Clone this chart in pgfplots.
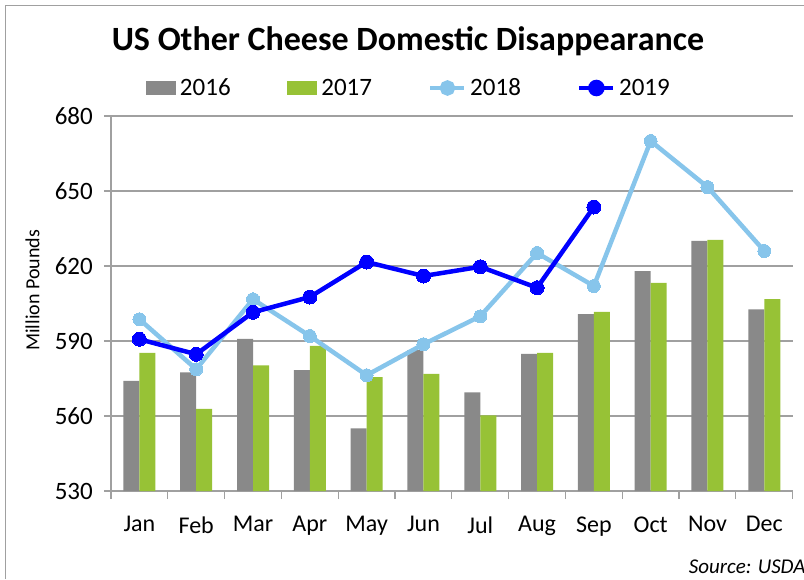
\documentclass[border=0pt]{standalone}
\usepackage{pgfplots}
\pgfplotsset{compat=1.18}
\usepackage{fontspec}
\setmainfont{Carlito}
\definecolor{c2016}{RGB}{137,137,137}
\definecolor{c2017}{RGB}{151,194,54}
\definecolor{c2018}{RGB}{135,197,235}
\definecolor{c2019}{RGB}{0,0,255}
\definecolor{gridc}{RGB}{160,160,160}
\begin{document}
\begin{tikzpicture}[x=1pt,y=1pt]
\path[use as bounding box] (0,0) rectangle (804,-579);
\draw[gridc, line width=1.2pt] (5.5,-579) -- (5.5,-5.5) -- (804,-5.5);
\node[font=\bfseries\fontsize{34}{38}\selectfont, anchor=base] at (408,-50) {US Other Cheese Domestic Disappearance};
\node[font=\itshape\fontsize{21}{24}\selectfont, anchor=base east] at (809,-573) {Source: USDA};
\begin{axis}[
  at={(111pt,-491pt)}, anchor=south west,
  width=681.7pt, height=375pt, scale only axis,
  xmin=-0.5, xmax=11.5, ymin=530, ymax=680,
  ytick={530,560,...,680},
  xtick={0,...,11},
  xticklabels={Jan,Feb,Mar,Apr,May,Jun,Jul,Aug,Sep,Oct,Nov,Dec},
  minor xtick={-0.5,0.5,...,11.5},
  axis x line*=bottom, axis y line*=left,
  axis line style={gridc, line width=1.2pt, -},
  tick align=outside,
  major x tick style={draw=none},
  minor x tick style={gridc, line width=1.2pt},
  ytick style={gridc, line width=1.2pt},
  major tick length=7pt, minor tick length=8pt,
  ymajorgrids, grid style={gridc, line width=1.2pt},
  /pgf/number format/assume math mode=true,
  yticklabel style={font=\fontsize{25}{28}\selectfont, xshift=-7.7pt},
  xticklabel style={font=\fontsize{24}{28}\selectfont, yshift=-15pt},
  ylabel={Million Pounds},
  ylabel style={font=\fontsize{20}{24}\selectfont, at={(axis description cs:-0.115,0.535)}, anchor=center},
  legend columns=4,
  legend style={at={(axis description cs:0.437,1.0747)}, anchor=center, draw=none, fill=none,
    font=\fontsize{25}{28}\selectfont,
    /tikz/every odd column/.append style={column sep=2pt},
    /tikz/every even column/.append style={column sep=54.7pt},
    inner sep=0pt},
  clip=true,
]
\addplot[ybar, bar width=16pt, bar shift=-8pt, fill=c2016, draw=none,
  legend image code/.code={\fill[c2016] (0pt,-7pt) rectangle (30pt,7pt);}]
  coordinates {(0,574.1) (1,577.5) (2,590.9) (3,578.4) (4,555.1) (5,586.4)
               (6,569.5) (7,584.9) (8,600.8) (9,618.0) (10,630.1) (11,602.7)};
\addlegendentry{2016}
\addplot[ybar, bar width=16pt, bar shift=8pt, fill=c2017, draw=none,
  legend image code/.code={\fill[c2017] (0pt,-7pt) rectangle (30pt,7pt);}]
  coordinates {(0,585.3) (1,562.9) (2,580.3) (3,588.1) (4,575.6) (5,576.9)
               (6,560.3) (7,585.3) (8,601.7) (9,613.3) (10,630.5) (11,606.8)};
\addlegendentry{2017}
\addplot[c2018, line width=4.5pt, mark=*, mark size=6.5pt, mark options={fill=c2018, draw=c2018, line width=0pt},
  legend image code/.code={\draw[c2018, line width=3.5pt] (0pt,0pt) -- (34pt,0pt); \fill[c2018] (17pt,0pt) circle (5.5pt);}]
  coordinates {(0,598.7) (1,578.7) (2,606.7) (3,592.0) (4,576.3) (5,588.7)
               (6,599.9) (7,625.2) (8,612.0) (9,670.0) (10,651.6) (11,626.0)};
\addlegendentry{2018}
\addplot[c2019, line width=4.5pt, mark=*, mark size=7pt, mark options={fill=c2019, draw=c2019, line width=0pt},
  legend image code/.code={\draw[c2019, line width=3.5pt] (0pt,0pt) -- (34pt,0pt); \fill[c2019] (17pt,0pt) circle (6pt);}]
  coordinates {(0,590.7) (1,584.7) (2,601.5) (3,607.6) (4,621.6) (5,616.0)
               (6,619.7) (7,611.3) (8,643.6)};
\addlegendentry{2019}
\end{axis}
\end{tikzpicture}
\end{document}
